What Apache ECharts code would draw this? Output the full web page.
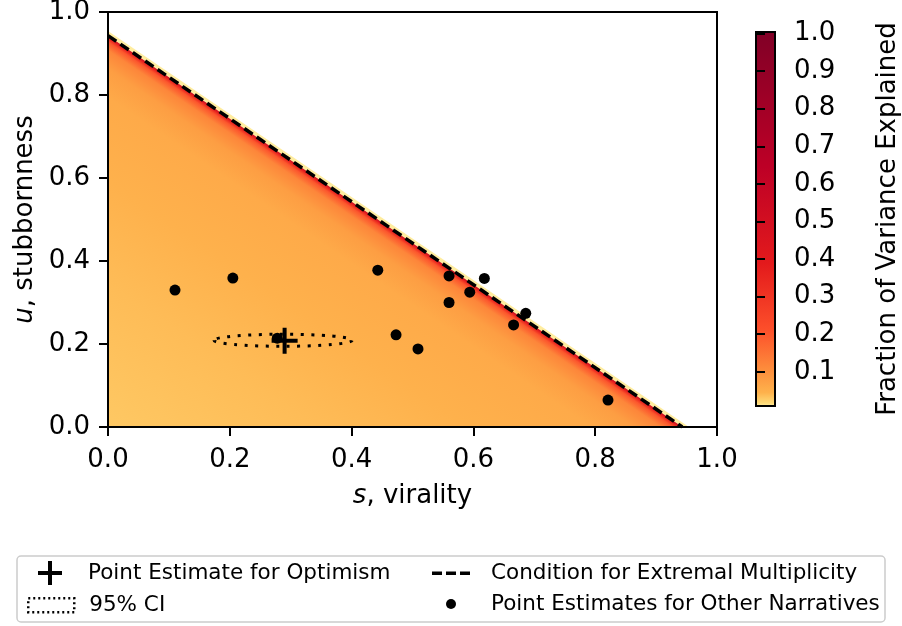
<!DOCTYPE html>
<html>
<head>
    <meta charset="utf-8">
    <title>virality vs stubbornness</title>
    <script src="https://cdn.jsdelivr.net/npm/echarts@6/dist/echarts.min.js"></script>
    <style type="text/css">
        html, body {margin:0; padding:0; background:#fff; overflow:hidden;}
        #main {width:902px; height:626px;}
    </style>
</head>
<body>
<div id="main"></div>
<script type="text/javascript">

    // dashed line: u = lineCut - s
    var lineCut = 0.943;

    // heat field, read as a profile below the dashed line
    // profOffset = distance under the line (in u), profValue = fraction of variance there
    var profOffset = [0, 0.006, 0.015, 0.035, 0.08, 0.15, 0.35, 0.6, 0.943];
    var profValue  = [0.6, 0.35, 0.2, 0.12, 0.08, 0.06, 0.048, 0.04, 0.032];
    // thin pale strip just above the line
    var edgeOffset = -0.011, edgeValue = 0.011;

    // point estimates for the other narratives
    var otherS = [0.110, 0.205, 0.443, 0.560, 0.618, 0.594, 0.560, 0.686, 0.666, 0.473, 0.509, 0.278, 0.821];
    var otherU = [0.330, 0.359, 0.378, 0.364, 0.358, 0.325, 0.300, 0.274, 0.246, 0.222, 0.188, 0.214, 0.065];

    // optimism estimate and its 95% CI (center, half widths)
    var optS = 0.290, optU = 0.208;
    var ciCenter = [0.2875, 0.209];
    var ciHalf = [0.1135, 0.0145];

    var cbTicks = [0.1, 0.2, 0.3, 0.4, 0.5, 0.6, 0.7, 0.8, 0.9, 1.0];
    var cbMin = 0.009, cbMax = 1.004;
    // colour bar stops [value, colour]
    var cbStops = [[0.009,'#ffffcc'],[0.011,'#ffeda0'],[0.02,'#fed976'],[0.047,'#feb24c'],[0.108,'#fd8d3c'],
                   [0.216,'#fc4e2a'],[0.389,'#e31a1c'],[0.645,'#bd0026'],[1.004,'#800026']];

    var FONT = 'DejaVu Sans';

    function hexRgb(h) {
        return [parseInt(h.substr(1,2),16), parseInt(h.substr(3,2),16), parseInt(h.substr(5,2),16)];
    }
    function heatColor(v) {
        if (v <= cbStops[0][0]) return cbStops[0][1];
        for (var i = 1; i < cbStops.length; i++) {
            if (v <= cbStops[i][0]) {
                var a = cbStops[i-1], b = cbStops[i];
                var t = (v - a[0]) / (b[0] - a[0]);
                var ca = hexRgb(a[1]), cb = hexRgb(b[1]);
                return 'rgb(' + ca.map(function (c, k) { return Math.round(c + (cb[k] - c) * t); }).join(',') + ')';
            }
        }
        return cbStops[cbStops.length-1][1];
    }

    // [intercept, next intercept, value at line, value at next line]
    // each one is a triangle down to the origin, drawn outer ones first
    var heatData = [[lineCut - edgeOffset, lineCut, edgeValue, edgeValue]];
    for (var i = 0; i < profOffset.length - 1; i++) {
        heatData.push([lineCut - profOffset[i], lineCut - profOffset[i+1], profValue[i], profValue[i+1]]);
    }
    var otherData = otherS.map(function (s, i) { return [s, otherU[i]]; });

    function renderBand(params, api) {
        var c = api.value(0), cNext = api.value(1);
        var p1 = api.coord([0, c]), p2 = api.coord([c, 0]), o = api.coord([0, 0]);
        var q = api.coord([0, cNext]);
        var lx = p2[0] - p1[0], ly = p2[1] - p1[1];
        var len = Math.sqrt(lx*lx + ly*ly);
        var nx = -ly / len, ny = lx / len;
        var t = (q[0] - p1[0]) * nx + (q[1] - p1[1]) * ny;
        var c0 = heatColor(api.value(2)), c1 = heatColor(api.value(3));
        var fill = new echarts.graphic.LinearGradient(p1[0], p1[1], p1[0] + nx*t, p1[1] + ny*t,
            [{offset:0, color:c0}, {offset:1, color:c1}], true);
        return {type:'polygon', shape:{points:[p1, p2, o]}, style:{fill:fill}};
    }

    function renderCI(params, api) {
        var ctr = api.coord([api.value(0), api.value(1)]);
        var sz = api.size([api.value(2), api.value(3)]);
        var rx = sz[0], ry = sz[1];
        var d = 'M' + (ctr[0]-rx) + ',' + ctr[1] +
                ' A' + rx + ',' + ry + ' 0 1 0 ' + (ctr[0]+rx) + ',' + ctr[1] +
                ' A' + rx + ',' + ry + ' 0 1 0 ' + (ctr[0]-rx) + ',' + ctr[1] + ' Z';
        return {type:'path', shape:{pathData:d}, style:{fill:'none', stroke:'#000', lineWidth:3, lineDash:[3, 7.5]}};
    }

    var fmt1 = function (v) { return v.toFixed(1); };
    var tickStyle = {color:'#000', width:2};
    var labelStyle = {fontFamily:FONT, fontSize:26, color:'#000'};
    var legendText = {fontFamily:FONT, fontSize:21.5, color:'#000'};

    var plusPath = 'path://M11,0h4v26h-4zM0,11h26v4h-26z';

    function oneLegend(left, top, h, pad, item) {
        return {
            orient:'vertical', left:left, top:top, padding:0,
            itemWidth:(left < 200 ? 50 : 40), itemHeight:h,
            textStyle:Object.assign({padding:[0,0,0,pad]}, legendText),
            data:[item]
        };
    }

    var chart = echarts.init(document.getElementById('main'));
    var option = {
        animation: false,
        backgroundColor: '#fff',
        textStyle: {fontFamily: FONT},
        graphic: [{
            type: 'rect', z: -1,
            shape: {x:17, y:556, width:868, height:66, r:4},
            style: {fill:'#fff', stroke:'#cccccc', lineWidth:1.5}
        }],
        legend: [
            oneLegend(25, 561, 24, 8, {name:'Point Estimate for Optimism',
                icon:'path://M0,0M50,24M23,0h4v24h-4zM13,10h24v4h-24z',
                itemStyle:{color:'#000', borderWidth:0, opacity:1}}),
            oneLegend(25, 593, 22, 8, {name:'95% CI',
                icon:'path://M0,0M50,22M2,4h46v14h-46z',
                itemStyle:{color:'transparent', borderColor:'#000', borderWidth:2.5, borderType:[2,3]}}),
            oneLegend(431, 562, 22, 15, {name:'Condition for Extremal Multiplicity',
                icon:'path://M0,0M40,22M1,9.5h10v3.5h-10zM15,9.5h10v3.5h-10zM29,9.5h10v3.5h-10z',
                itemStyle:{color:'#000', borderWidth:0, opacity:1}}),
            oneLegend(431, 593, 22, 15, {name:'Point Estimates for Other Narratives',
                icon:'path://M0,0M40,22M15,11a5,5 0 1,0 10,0a5,5 0 1,0 -10,0z',
                itemStyle:{color:'#000', borderWidth:0, opacity:1}})
        ],
        grid: [{
            left:108, top:12, width:609, height:415,
            show:true, borderColor:'#000', borderWidth:2, z:10,
            outerBoundsMode:'none'
        }, {
            left:756, top:32, width:19, height:374,
            show:true, borderColor:'#000', borderWidth:2,
            backgroundColor: {
                type:'linear', x:0, y:1, x2:0, y2:0,
                colorStops: cbStops.map(function (s) { return {offset:(s[0]-cbMin)/(cbMax-cbMin), color:s[1]}; })
            },
            outerBoundsMode:'none'
        }],
        xAxis: [{
            gridIndex:0, type:'value', min:0, max:1, interval:0.2, z:10,
            axisLine:{show:true, onZero:false, lineStyle:tickStyle},
            axisTick:{show:true, inside:false, length:9, lineStyle:tickStyle},
            axisLabel:Object.assign({margin:20, formatter:fmt1, showMinLabel:true, showMaxLabel:true}, labelStyle),
            splitLine:{show:false},
            name:'{i|s}, virality', nameLocation:'middle', nameGap:56,
            nameTextStyle:Object.assign({rich:{i:{fontStyle:'italic', fontSize:26, fontFamily:FONT}}}, labelStyle)
        }, {
            gridIndex:1, type:'value', min:0, max:1, show:false
        }],
        yAxis: [{
            gridIndex:0, type:'value', min:0, max:1, interval:0.2, z:10,
            axisLine:{show:true, onZero:false, lineStyle:tickStyle},
            axisTick:{show:true, inside:false, length:9, lineStyle:tickStyle},
            axisLabel:Object.assign({margin:18, formatter:fmt1, showMinLabel:true, showMaxLabel:true}, labelStyle),
            splitLine:{show:false},
            name:'{i|u}, stubbornness', nameLocation:'middle', nameGap:65,
            nameTextStyle:Object.assign({rich:{i:{fontStyle:'italic', fontSize:26, fontFamily:FONT}}}, labelStyle)
        }, {
            gridIndex:1, type:'value', position:'right', min:cbMin, max:cbMax, z:10,
            axisLine:{show:false},
            axisTick:{show:true, inside:false, length:9, lineStyle:tickStyle, customValues:cbTicks},
            axisLabel:Object.assign({margin:19, formatter:fmt1, customValues:cbTicks}, labelStyle),
            splitLine:{show:false},
            name:'Fraction of Variance Explained', nameLocation:'middle', nameRotate:90, nameGap:100,
            nameTextStyle:labelStyle
        }],
        series: [{
            type:'custom', name:'heat', xAxisIndex:0, yAxisIndex:0, z:1, silent:true,
            renderItem:renderBand, data:heatData
        }, {
            type:'line', name:'Condition for Extremal Multiplicity', xAxisIndex:0, yAxisIndex:0, z:3,
            data:[[0, lineCut], [lineCut, 0]], symbol:'none', silent:true,
            itemStyle:{color:'#000'},
            lineStyle:{color:'#000', width:3.5, type:[10,5]}
        }, {
            type:'custom', name:'95% CI', xAxisIndex:0, yAxisIndex:0, z:4, silent:true,
            renderItem:renderCI, data:[[ciCenter[0], ciCenter[1], ciHalf[0], ciHalf[1]]],
            itemStyle:{color:'#000'}
        }, {
            type:'scatter', name:'Point Estimate for Optimism', xAxisIndex:0, yAxisIndex:0, z:5,
            data:[[optS, optU]], symbol:plusPath, symbolSize:26,
            itemStyle:{color:'#000', opacity:1}
        }, {
            type:'scatter', name:'Point Estimates for Other Narratives', xAxisIndex:0, yAxisIndex:0, z:6,
            data:otherData, symbol:'circle', symbolSize:11,
            itemStyle:{color:'#000', opacity:1}
        }]
    };

    chart.setOption(option);
</script>
</body>
</html>
